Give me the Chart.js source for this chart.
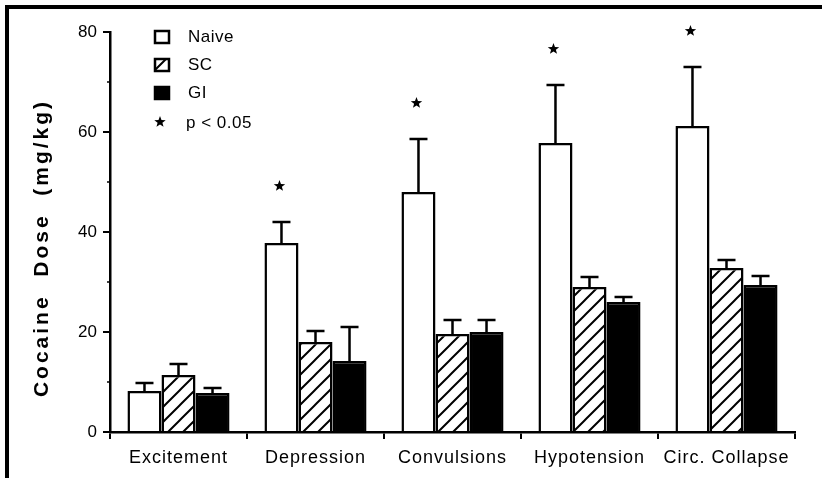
<!DOCTYPE html>
<html>
<head>
<meta charset="utf-8">
<script src="https://cdn.jsdelivr.net/npm/chart.js@4.4.1/dist/chart.umd.min.js"></script>
<style>
  html, body { margin: 0; padding: 0; background: #fff; }
  #wrap { width: 822px; height: 478px; }
</style>
</head>
<body>
<div id="wrap"><canvas id="chart" width="822" height="478"></canvas></div>
<script>
// categories and series
const categories = ['Excitement', 'Depression', 'Convulsions', 'Hypotension', 'Circ. Collapse'];
const seriesNames = ['Naive', 'SC', 'GI'];

// mean cocaine dose (mg/kg)
const naive = [8.2, 37.8, 48.0, 57.8, 61.2];
const sc = [11.4, 18.0, 19.6, 29.0, 32.8];
const gi = [7.8, 14.2, 20.0, 26.0, 29.4];

// upper error bars (SEM)
const naiveErr = [1.6, 4.2, 10.6, 11.6, 11.8];
const scErr = [2.2, 2.2, 2.8, 2.0, 1.6];
const giErr = [1.0, 6.8, 2.4, 1.0, 1.8];

// p < 0.05 marks (naive vs others)
const significant = [false, true, true, true, true];

const yTicks = [0, 20, 40, 60, 80];
const yTitle = 'Cocaine  Dose  (mg/kg)';
const sigLabel = 'p < 0.05';

const FONT = '"Liberation Sans", Arial, Helvetica, sans-serif';
Chart.defaults.font.family = FONT;
Chart.defaults.color = '#000';

// hatch pattern for SC bars
function makeHatch() {
    const size = 15;
    const c = document.createElement('canvas');
    c.width = size;
    c.height = size;
    const g = c.getContext('2d');
    g.fillStyle = '#fff';
    g.fillRect(0, 0, size, size);
    g.strokeStyle = '#000';
    g.lineWidth = 2;
    g.beginPath();
    g.moveTo(-2, size + 2); g.lineTo(size + 2, -2);
    g.moveTo(-size / 2 - 2, size / 2 + 2); g.lineTo(size / 2 + 2, -size / 2 - 2);
    g.moveTo(size / 2 - 2, size * 1.5 + 2); g.lineTo(size * 1.5 + 2, size / 2 - 2);
    g.stroke();
    return g.createPattern(c, 'repeat');
}
const hatch = makeHatch();

const fills = ['#fff', hatch, '#000'];
const errors = [naiveErr, scErr, giErr];

function drawStar(ctx, cx, cy, r) {
    ctx.beginPath();
    for (let i = 0; i < 10; i++) {
        const rad = i % 2 === 0 ? r : r * 0.42;
        const a = -Math.PI / 2 + i * Math.PI / 5;
        const px = cx + rad * Math.cos(a);
        const py = cy + rad * Math.sin(a);
        if (i === 0) ctx.moveTo(px, py); else ctx.lineTo(px, py);
    }
    ctx.closePath();
    ctx.fill();
}

// error bars, stars, minor ticks, labels, legend and frame
const extras = {
    id: 'extras',
    afterDatasetsDraw(chart) {
        const ctx = chart.ctx;
        const y = chart.scales.y;
        ctx.save();
        ctx.strokeStyle = '#000';
        ctx.fillStyle = '#000';
        ctx.lineWidth = 2.5;
        chart.data.datasets.forEach((ds, i) => {
            const meta = chart.getDatasetMeta(i);
            meta.data.forEach((bar, j) => {
                const top = y.getPixelForValue(ds.data[j] + errors[i][j]);
                ctx.beginPath();
                ctx.moveTo(bar.x, bar.y);
                ctx.lineTo(bar.x, top);
                ctx.moveTo(bar.x - 9, top);
                ctx.lineTo(bar.x + 9, top);
                ctx.stroke();
                if (i === 0 && significant[j]) {
                    drawStar(ctx, bar.x - 2, top - 36, 6);
                }
            });
        });
        ctx.restore();
    },
    afterDraw(chart) {
        const ctx = chart.ctx;
        const x = chart.scales.x;
        const y = chart.scales.y;
        ctx.save();
        ctx.fillStyle = '#000';
        ctx.strokeStyle = '#000';

        // minor y ticks
        ctx.lineWidth = 1.5;
        y.ticks.forEach(t => {
            if (t.value % 20 !== 0) {
                const py = y.getPixelForValue(t.value);
                ctx.beginPath();
                ctx.moveTo(y.right - 3, py);
                ctx.lineTo(y.right, py);
                ctx.stroke();
            }
        });

        // category labels
        ctx.font = '18px ' + FONT;
        ctx.letterSpacing = '1px';
        ctx.textAlign = 'center';
        ctx.textBaseline = 'middle';
        categories.forEach((c, i) => {
            ctx.fillText(c, x.getPixelForTick(i), 458);
        });

        // y title
        ctx.save();
        ctx.translate(42, 248);
        ctx.rotate(-Math.PI / 2);
        ctx.font = 'bold 21px ' + FONT;
        ctx.letterSpacing = '3px';
        ctx.fillText(yTitle, 0, 0);
        ctx.restore();

        // legend
        ctx.font = '17px ' + FONT;
        ctx.letterSpacing = '0.5px';
        ctx.textAlign = 'left';
        const rows = [37, 65, 93];
        seriesNames.forEach((name, i) => {
            const ry = rows[i];
            ctx.fillStyle = fills[i];
            ctx.fillRect(154, ry - 7, 16, 14);
            ctx.lineWidth = 2.5;
            ctx.strokeRect(155, ry - 6, 14, 12);
            ctx.fillStyle = '#000';
            ctx.fillText(name, 188, ry);
        });
        drawStar(ctx, 160, 122, 6);
        ctx.fillText(sigLabel, 186, 123);

        // frame (top and left)
        ctx.fillRect(5, 5, 817, 4);
        ctx.fillRect(5, 5, 4, 473);
        ctx.restore();
    }
};

new Chart(document.getElementById('chart'), {
    type: 'bar',
    data: {
        labels: categories,
        datasets: [
            { label: seriesNames[0], data: naive, backgroundColor: fills[0], borderColor: '#000', borderWidth: 2.5 },
            { label: seriesNames[1], data: sc, backgroundColor: fills[1], borderColor: '#000', borderWidth: 2.5 },
            { label: seriesNames[2], data: gi, backgroundColor: fills[2], borderColor: '#000', borderWidth: 2.5 }
        ]
    },
    options: {
        responsive: false,
        animation: false,
        layout: { padding: { left: 0, top: 32, right: 27, bottom: 0 } },
        datasets: { bar: { categoryPercentage: 0.745, barPercentage: 1.0 } },
        plugins: { legend: { display: false }, tooltip: { enabled: false } },
        scales: {
            x: {
                offset: true,
                grid: { offset: true, drawOnChartArea: false, drawTicks: true, tickLength: 7, color: '#000', lineWidth: 2 },
                border: { color: '#000', width: 2.5 },
                ticks: { color: 'transparent' },
                afterFit(s) { s.height = 46; }
            },
            y: {
                min: 0,
                max: 80,
                ticks: {
                    stepSize: 10,
                    padding: 6,
                    font: { size: 17 },
                    color: '#000',
                    callback: v => yTicks.includes(v) ? v : ''
                },
                grid: {
                    drawOnChartArea: false,
                    drawTicks: true,
                    tickLength: 7,
                    lineWidth: 2,
                    color: c => (c.tick && c.tick.value % 20 === 0) ? '#000' : 'transparent'
                },
                border: { color: '#000', width: 2.5 },
                afterFit(s) { s.width = 110; }
            }
        }
    },
    plugins: [extras]
});
</script>
</body>
</html>
